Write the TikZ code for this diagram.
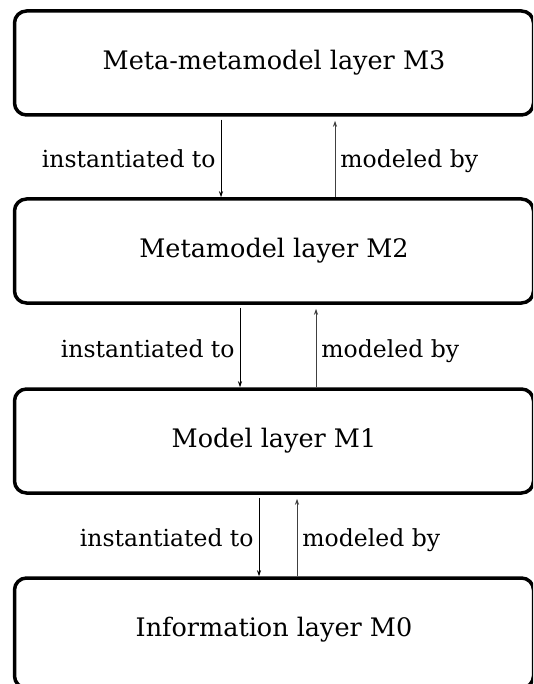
\documentclass[tikz,border=0pt]{standalone}
\usepackage{fontspec}
\setmainfont{DejaVu Serif}
\usetikzlibrary{arrows.meta}
\tikzset{
  layer/.style={draw, line width=3.5pt, rounded corners=12pt, minimum width=519pt,
    minimum height=104pt, inner sep=0pt, font=\fontsize{25.5}{30}\selectfont},
  down/.style={draw=black, line width=0.8pt, shorten <=3pt, -{Stealth[length=6pt,width=4pt]}},
  up/.style={draw=black!75, line width=0.9pt, shorten >=4pt, -{Stealth[length=6pt,width=4pt]}},
  lbl/.style={font=\fontsize{23.5}{28}\selectfont, inner sep=0pt, text height=14pt, text depth=4pt}
}
\begin{document}
\begin{tikzpicture}[x=1pt,y=-1pt]
  \useasboundingbox (0,0) rectangle (533,684);
  \clip (0,0) rectangle (533,684);
  % the four layers
  \node[layer] (m3) at (274,63)  {Meta-metamodel layer M3};
  \node[layer] (m2) at (274,251) {Metamodel layer M2};
  \node[layer] (m1) at (274,441) {Model layer M1};
  \node[layer, minimum height=110pt] (m0) at (274,633) {};
  \node[font=\fontsize{25.5}{30}\selectfont] (m0t) at (274,630) {Information layer M0};
  % x positions of the connectors
  \coordinate (d3) at (221,0);  \coordinate (u3) at (335,0);
  \coordinate (d2) at (240,0);  \coordinate (u2) at (316,0);
  \coordinate (d1) at (259,0);  \coordinate (u1) at (297,0);
  % M3 <-> M2
  \draw[down] (m3.south -| d3) -- (m2.north -| d3)
    node[lbl, midway, anchor=east, xshift=-5pt, yshift=-6pt] {instantiated to};
  \draw[up] (m2.north -| u3) -- (m3.south -| u3)
    node[lbl, midway, anchor=west, xshift=5pt, yshift=-6pt] {modeled by};
  % M2 <-> M1
  \draw[down] (m2.south -| d2) -- (m1.north -| d2)
    node[lbl, midway, anchor=east, xshift=-5pt, yshift=-6pt] {instantiated to};
  \draw[up] (m1.north -| u2) -- (m2.south -| u2)
    node[lbl, midway, anchor=west, xshift=5pt, yshift=-6pt] {modeled by};
  % M1 <-> M0
  \draw[down] (m1.south -| d1) -- (m0.north -| d1)
    node[lbl, midway, anchor=east, xshift=-5pt, yshift=-6pt] {instantiated to};
  \draw[up] (m0.north -| u1) -- (m1.south -| u1)
    node[lbl, midway, anchor=west, xshift=5pt, yshift=-6pt] {modeled by};
\end{tikzpicture}
\end{document}
